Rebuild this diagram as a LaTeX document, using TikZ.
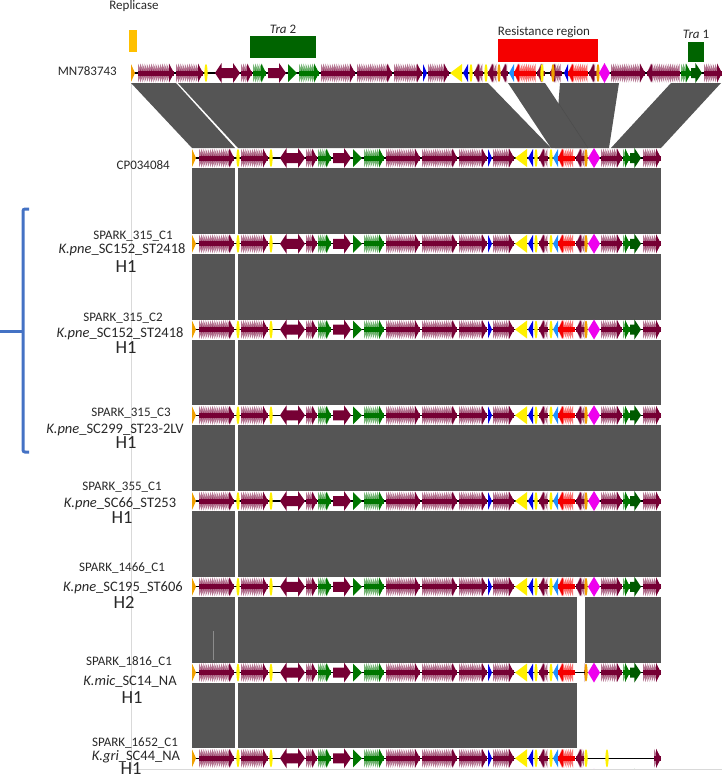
\documentclass[tikz,border=0pt]{standalone}
\usepackage{fontspec}
\setmainfont{Carlito}
\definecolor{mar}{RGB}{118,0,52}
\definecolor{grn}{RGB}{0,118,0}
\definecolor{dgrn}{RGB}{0,90,0}
\definecolor{tgrn}{RGB}{0,100,0}
\definecolor{yel}{RGB}{255,240,0}
\definecolor{blu}{RGB}{0,0,230}
\definecolor{cya}{RGB}{30,144,255}
\definecolor{rd}{RGB}{245,0,0}
\definecolor{mag}{RGB}{238,0,238}
\definecolor{ora}{RGB}{240,160,0}
\definecolor{repl}{RGB}{255,192,0}
\definecolor{blockgray}{RGB}{85,85,85}
\definecolor{framegray}{RGB}{217,217,217}
\definecolor{brk}{RGB}{68,114,196}
\definecolor{txt}{RGB}{40,40,40}
% gene primitives
\newcommand{\gfz}[5]{%
  \fill[#1] (#3,#5-2.5) rectangle (#4,#5+2.5);
  \pgfmathtruncatemacro{\gfn}{max(0,floor((#4-#3-4)/2.2))}%
  \foreach \gk in {0,...,\gfn}{%
    \pgfmathsetmacro{\gxa}{#3+2.2*\gk}%
    \pgfmathsetmacro{\gxb}{\gxa+4}%
    \ifnum#2=1
      \fill[#1,opacity=.55] (\gxa,#5-9.5)--(\gxb,#5)--(\gxa,#5+9.5)--cycle;
    \else
      \fill[#1,opacity=.55] (\gxb,#5-9.5)--(\gxa,#5)--(\gxb,#5+9.5)--cycle;
    \fi
  }%
  \ifnum#2=1
    \fill[#1] (#4-5,#5-9.5)--(#4,#5)--(#4-5,#5+9.5)--cycle;
  \else
    \fill[#1] (#3+5,#5-9.5)--(#3,#5)--(#3+5,#5+9.5)--cycle;
  \fi}
\newcommand{\garr}[5]{%
  \pgfmathsetmacro{\gh}{min(7,0.6*(#4-#3))}%
  \ifnum#2=1
   \fill[#1] (#3,#5-5)--(#4-\gh,#5-5)--(#4-\gh,#5-10)--(#4,#5)--(#4-\gh,#5+10)--(#4-\gh,#5+5)--(#3,#5+5)--cycle;
  \else
   \fill[#1] (#4,#5-5)--(#3+\gh,#5-5)--(#3+\gh,#5-10)--(#3,#5)--(#3+\gh,#5+10)--(#3+\gh,#5+5)--(#4,#5+5)--cycle;
  \fi}
\newcommand{\gtri}[5]{%
  \ifnum#2=1
   \fill[#1] (#3,#5-9)--(#4,#5)--(#3,#5+9)--cycle;
  \else
   \fill[#1] (#4,#5-9)--(#3,#5)--(#4,#5+9)--cycle;
  \fi}
\newcommand{\gmark}[3]{\fill[#1] (#2,#3) ellipse [x radius=1.6pt, y radius=9pt];}
\newcommand{\gdiam}[4]{\fill[#1] (#2,#4)--({(#2+#3)/2},#4-10)--(#3,#4)--({(#2+#3)/2},#4+10)--cycle;}
% shared segments
\newcommand{\cpA}[1]{%
 \gfz{mar}{1}{241}{268}{#1}
 \gmark{yel}{271}{#1}
 \garr{mar}{-1}{280}{291}{#1}
 \garr{mar}{1}{291}{305}{#1}
 \gfz{mar}{1}{306}{317}{#1}
 \gfz{grn}{1}{318}{331}{#1}
 \garr{mar}{1}{333}{351}{#1}
 \gtri{grn}{1}{353}{362}{#1}
 \gfz{grn}{1}{364}{384}{#1}
 \gfz{mar}{1}{386}{420}{#1}
 \gfz{mar}{1}{422}{457}{#1}
 \gfz{mar}{1}{459}{487}{#1}
 \gtri{blu}{1}{488}{492}{#1}
 \gfz{mar}{1}{493}{514}{#1}
 \gtri{yel}{-1}{515}{527}{#1}
 \gtri{blu}{-1}{528}{533}{#1}
 \gmark{yel}{536}{#1}
 \gfz{mar}{-1}{539}{548}{#1}
 \gmark{yel}{551}{#1}}
\newcommand{\cpB}[1]{%
 \gtri{cya}{-1}{553}{558}{#1}
 \gfz{rd}{-1}{558}{575}{#1}
 \gfz{mar}{-1}{576}{585}{#1}
 \gmark{ora}{586}{#1}
 \gdiam{mag}{588}{600}{#1}
 \gfz{mar}{1}{601}{622}{#1}
 \gfz{grn}{1}{623}{630}{#1}
 \garr{dgrn}{1}{630}{641}{#1}
 \gfz{mar}{1}{643}{661}{#1}}
\newcommand{\cptrack}[1]{%
 \draw[gline] (192,#1)--(661,#1);
 \gtri{ora}{1}{192}{196}{#1}
 \gfz{mar}{1}{199}{234}{#1}
 \gmark{yel}{238}{#1}
 \cpA{#1}\cpB{#1}}
\newcommand{\mntrack}[1]{%
 \draw[gline] (131,#1)--(722,#1);
 \gtri{ora}{1}{131}{135}{#1}
 \gfz{mar}{1}{138}{174}{#1}
 \begin{scope}[xshift=-65pt]\cpA{#1}\end{scope}
 \gfz{mar}{-1}{488}{497}{#1}
 \gmark{ora}{499}{#1}
 \gfz{mar}{-1}{501}{508}{#1}
 \gtri{cya}{-1}{509}{514}{#1}
 \gfz{rd}{-1}{514}{536}{#1}
 \gfz{mar}{-1}{537}{545}{#1}
 \gmark{yel}{542}{#1}
 \gfz{mar}{-1}{550}{562}{#1}
 \gmark{ora}{553}{#1}
 \gtri{blu}{-1}{564}{568}{#1}
 \gfz{rd}{-1}{568}{588}{#1}
 \gfz{mar}{-1}{589}{597}{#1}
 \gmark{ora}{598}{#1}
 \gdiam{mag}{599}{610}{#1}
 \gfz{mar}{1}{611}{645}{#1}
 \gfz{mar}{-1}{647}{680}{#1}
 \gfz{grn}{1}{681}{691}{#1}
 \garr{dgrn}{1}{691}{702}{#1}
 \gfz{mar}{1}{704}{722}{#1}}
\begin{document}
\begin{tikzpicture}[x=1pt,y=-1pt,
  gline/.style={black,line width=1.3pt},
  lbl/.style={inner sep=0pt,text=txt,font=\fontsize{13}{15}\selectfont},
  klbl/.style={inner sep=0pt,text=txt,font=\fontsize{14.5}{16}\selectfont},
  hlbl/.style={inner sep=0pt,text=txt,font=\fontsize{18.5}{20}\selectfont},
  bracket/.style={brk,line width=3pt,rounded corners=2pt}]
\useasboundingbox (0,0) rectangle (722,777);
% frame lines
\draw[framegray,line width=1pt] (131,83)--(131,769)--(722,769);
% top feature bars
\fill[repl] (129,30) rectangle (137,52);
\fill[tgrn] (250,36) rectangle (316,58);
\fill[rd] (498,39) rectangle (598,62);
\fill[tgrn] (688,42) rectangle (704,62);
\node[lbl] (replicase) at (134,6) {Replicase};
\node[lbl] (tra2) at (283,29) {\textit{Tra} 2};
\node[lbl] (resreg) at (544,32) {Resistance region};
\node[lbl] (tra1) at (696,34) {\textit{Tra} 1};
% alignment blocks MN783743 -> CP034084
\fill[blockgray] (131,83)--(176,83)--(235,148)--(192,148)--cycle;
\fill[blockgray] (178,83)--(488,83)--(551,148)--(238,148)--cycle;
\fill[blockgray] (508,83)--(545,83)--(588,148)--(551,148)--cycle;
\fill[blockgray] (560,83)--(619,83)--(609,148)--(555,148)--cycle;
\draw[black!70,line width=0.5pt] (559,104)--(588,148);
\fill[blockgray] (671,83)--(721,83)--(661,148)--(611,148)--cycle;
% lower blocks
\foreach \ya/\yb in {158/243.75,243.75/329.5,329.5/415.25,415.25/501,501/586.75}{
  \fill[blockgray] (192,\ya+10) rectangle (235,\yb-10);
  \fill[blockgray] (238,\ya+10) rectangle (661,\yb-10);
}
\fill[blockgray] (192,596.75) rectangle (235,662.5);
\fill[blockgray] (238,596.75) rectangle (577,662.5);
\fill[blockgray] (585,596.75) rectangle (661,662.5);
\draw[black!45,line width=0.6pt] (213,631)--(213,660);
\fill[blockgray] (192,682.5) rectangle (235,748.25);
\fill[blockgray] (238,682.5) rectangle (577,748.25);
% tracks
\mntrack{73}
\cptrack{158}
\cptrack{243.75}
\cptrack{329.5}
\cptrack{415.25}
\cptrack{501}
\cptrack{586.75}
\cptrack{672.5}
\fill[white] (576,662.5) rectangle (584.3,682.5);
\draw[gline] (575,672.5)--(585,672.5);
\cptrack{758.25}
\fill[white] (584,748.25) rectangle (662,768.25);
\draw[gline] (584,758.25)--(661,758.25);
\gmark{yel}{586}{758.25}
\gmark{yel}{607}{758.25}
\gfz{mar}{1}{654}{661}{758.25}
% track labels
\node[lbl,anchor=east] (mnlab) at (117,71) {MN783743};
\node[lbl,anchor=east] (cplab) at (170,165) {CP034084};
\node[lbl] (s1a) at (133,236) {SPARK\_315\_C1};
\node[klbl] (s1b) at (122,250) {\textit{K.pne}\_SC152\_ST2418};
\node[hlbl] (s1c) at (126,267) {H1};
\node[lbl] (s2a) at (123,318) {SPARK\_315\_C2};
\node[klbl] (s2b) at (120,334) {\textit{K.pne}\_SC152\_ST2418};
\node[hlbl] (s2c) at (126,348) {H1};
\node[lbl] (s3a) at (131,413) {SPARK\_315\_C3};
\node[klbl] (s3b) at (115,430) {\textit{K.pne}\_SC299\_ST23-2LV};
\node[hlbl] (s3c) at (126,443) {H1};
\node[lbl] (s4a) at (122,487) {SPARK\_355\_C1};
\node[klbl] (s4b) at (120,504) {\textit{K.pne}\_SC66\_ST253};
\node[hlbl] (s4c) at (122,518) {H1};
\node[lbl] (s5a) at (122,568) {SPARK\_1466\_C1};
\node[klbl] (s5b) at (123,588) {\textit{K.pne}\_SC195\_ST606};
\node[hlbl] (s5c) at (124,602) {H2};
\node[lbl] (s6a) at (129,662) {SPARK\_1816\_C1};
\node[klbl] (s6b) at (130,681) {\textit{K.mic}\_SC14\_NA};
\node[hlbl] (s6c) at (132,698) {H1};
\node[lbl] (s7a) at (135,743) {SPARK\_1652\_C1};
\node[klbl] (s7b) at (136,757) {\textit{K.gri}\_SC44\_NA};
\node[hlbl] (s7c) at (131,769) {H1};
% bracket
\draw[bracket] (29,209)--(23,209)--(23,452)--(29,452);
\draw[bracket] (0,331.5)--(23,331.5);
\end{tikzpicture}
\end{document}
